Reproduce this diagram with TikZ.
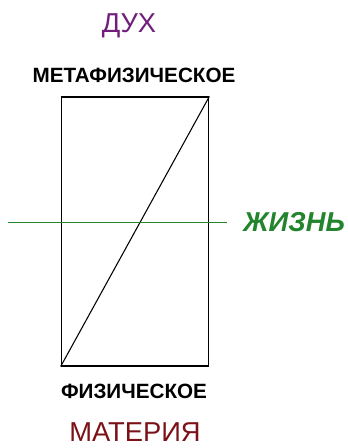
\documentclass[tikz,border=0pt]{standalone}
\usepackage{fontspec}
\setmainfont{Liberation Sans}
\definecolor{Spirit}{RGB}{112, 30, 122}
\definecolor{Matter}{RGB}{122, 18, 24}
\definecolor{Life}{RGB}{34, 132, 44}
\usetikzlibrary{positioning}

\begin{document}
\begin{tikzpicture}[
    x=0.75pt, y=-0.75pt,
    every node/.style={inner sep=0pt, anchor=base},
    label1/.style={font=\fontsize{15.5}{18}\selectfont\bfseries},
    label2/.style={font=\fontsize{20.5}{24}\selectfont},
    frame/.style={draw, line width=1pt, minimum width=110.5pt, minimum height=201.5pt, anchor=center}
]
\useasboundingbox (0,0) rectangle (348,448);
\node[frame] (box) at (135,231.5) {};
\draw[line width=0.8pt] (box.south west) -- (box.north east);
\coordinate (lifeL) at (8,222.5);
\coordinate (lifeR) at (227,222.5);
\draw[Life, line width=1pt] (lifeL) -- (lifeR);
\node[label2, Spirit] (spirit) at (129,33) {ДУХ};
\node[label1] (meta) at (134,83) {МЕТАФИЗИЧЕСКОЕ};
\node[label1] (phys) at (134,398) {ФИЗИЧЕСКОЕ};
\node[label2, Matter] (matter) at (135,441) {МАТЕРИЯ};
\node[label2, Life, font=\fontsize{20.5}{24}\selectfont\bfseries\itshape, anchor=base west] (life) at (243,232) {ЖИЗНЬ};
\end{tikzpicture}
\end{document}
